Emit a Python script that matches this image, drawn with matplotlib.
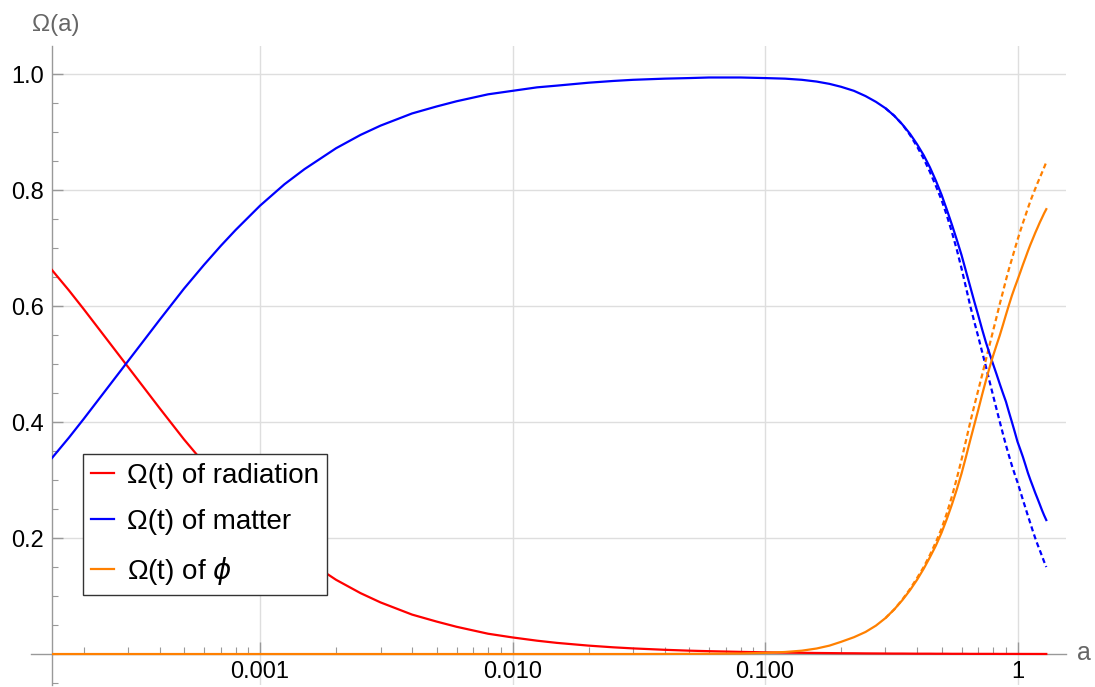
import matplotlib
matplotlib.use("Agg")
import matplotlib.pyplot as plt
from matplotlib.ticker import FixedLocator, FixedFormatter, NullFormatter
import matplotlib.transforms as mtransforms

plt.rcParams['font.family'] = ['Liberation Sans', 'DejaVu Sans']
plt.rcParams['mathtext.fontset'] = 'dejavusans'

# ---- data ----
a_vals = [1.5e-4, 1.75e-4, 2e-4, 2.5e-4, 3e-4, 3.5e-4, 4e-4, 5e-4, 6e-4, 7e-4, 8e-4,
          1e-3, 1.25e-3, 1.5e-3, 2e-3, 2.5e-3, 3e-3, 4e-3, 5e-3, 6e-3, 8e-3,
          0.01, 0.0125, 0.015, 0.02, 0.025, 0.03, 0.04, 0.05, 0.06, 0.08,
          0.1, 0.12, 0.14, 0.16, 0.18, 0.2, 0.225, 0.25, 0.275,
          0.3, 0.325, 0.35, 0.375, 0.4, 0.425, 0.45, 0.475, 0.5, 0.525, 0.55, 0.575,
          0.6, 0.625, 0.65, 0.675, 0.7, 0.725, 0.75, 0.775, 0.8, 0.825, 0.85, 0.875,
          0.9, 0.925, 0.95, 0.975, 1.0, 1.025, 1.05, 1.075, 1.1, 1.125, 1.15, 1.175,
          1.2, 1.225, 1.25, 1.275, 1.3]

omega_rad = [0.662, 0.627, 0.595, 0.540, 0.495, 0.457, 0.424, 0.370, 0.329, 0.296, 0.269,
             0.227, 0.190, 0.164, 0.128, 0.105, 0.089, 0.068, 0.056, 0.047, 0.035,
             0.0286, 0.023, 0.0192, 0.0145, 0.0116, 0.0097, 0.0073, 0.0058, 0.0049, 0.0037,
             0.0029, 0.0024, 0.0021, 0.0018, 0.0016, 0.0014, 0.0013, 0.0011, 0.0010,
             0.0009, 0.0008, 0.0008, 0.0007, 0.0006, 0.0006, 0.0006, 0.0005, 0.0005, 0.0005, 0.0004, 0.0004,
             0.0004, 0.0004, 0.0003, 0.0003, 0.0003, 0.0003, 0.0003, 0.0003, 0.00025, 0.00025, 0.0002, 0.0002,
             0.0002, 0.0002, 0.0002, 0.00019, 0.00018, 0.00017, 0.00016, 0.00015, 0.00015, 0.00014, 0.00013, 0.00013,
             0.00012, 0.00012, 0.00011, 0.00011, 0.0001]

omega_mat = [0.338, 0.373, 0.405, 0.460, 0.505, 0.543, 0.576, 0.630, 0.671, 0.704, 0.731,
             0.773, 0.810, 0.836, 0.872, 0.895, 0.911, 0.932, 0.944, 0.953, 0.965,
             0.971, 0.977, 0.980, 0.985, 0.988, 0.990, 0.992, 0.993, 0.994, 0.994,
             0.993, 0.992, 0.990, 0.987, 0.983, 0.978, 0.971, 0.962, 0.952,
             0.941, 0.928, 0.913, 0.897, 0.879, 0.860, 0.839, 0.816, 0.792, 0.766, 0.740, 0.714,
             0.688, 0.660, 0.633, 0.607, 0.583, 0.559, 0.537, 0.518, 0.500, 0.483, 0.466, 0.450,
             0.435, 0.417, 0.400, 0.383, 0.366, 0.353, 0.340, 0.326, 0.312, 0.300, 0.289, 0.278,
             0.268, 0.258, 0.248, 0.239, 0.231]

omega_phi = [0.0, 0.0, 0.0, 0.0, 0.0, 0.0, 0.0, 0.0, 0.0, 0.0, 0.0,
             0.0, 0.0, 0.0, 0.0, 0.0, 0.0, 0.0, 0.0, 0.0, 0.0,
             0.0, 0.0, 0.0, 0.0, 0.0, 0.0, 0.0001, 0.0003, 0.0005, 0.001,
             0.002, 0.0035, 0.0058, 0.0095, 0.0145, 0.021, 0.029, 0.038, 0.049,
             0.062, 0.077, 0.093, 0.110, 0.128, 0.147, 0.167, 0.187, 0.209, 0.233, 0.258, 0.284,
             0.311, 0.340, 0.369, 0.396, 0.422, 0.448, 0.472, 0.494, 0.514, 0.532, 0.549, 0.567,
             0.585, 0.602, 0.618, 0.632, 0.645, 0.658, 0.671, 0.683, 0.695, 0.706, 0.716, 0.726,
             0.735, 0.744, 0.752, 0.760, 0.767]

# reference (dashed) curves, late times
a_ref = [0.3, 0.325, 0.35, 0.375, 0.4, 0.425, 0.45, 0.475, 0.5, 0.525, 0.55, 0.575,
         0.6, 0.625, 0.65, 0.675, 0.7, 0.725, 0.75, 0.775, 0.8, 0.825, 0.85, 0.875,
         0.9, 0.925, 0.95, 0.975, 1.0, 1.025, 1.05, 1.075, 1.1, 1.125, 1.15, 1.175,
         1.2, 1.225, 1.25, 1.275, 1.3]
omega_mat_ref = [0.941, 0.928, 0.913, 0.895, 0.875, 0.854, 0.831, 0.807, 0.783, 0.756, 0.727, 0.697,
                 0.665, 0.632, 0.600, 0.572, 0.546, 0.520, 0.495, 0.470, 0.446, 0.423, 0.401, 0.380,
                 0.360, 0.342, 0.325, 0.310, 0.296, 0.281, 0.266, 0.252, 0.238, 0.225, 0.212, 0.200,
                 0.189, 0.179, 0.169, 0.159, 0.150]
omega_phi_ref = [0.062, 0.077, 0.094, 0.112, 0.131, 0.150, 0.171, 0.193, 0.216, 0.243, 0.272, 0.303,
                 0.335, 0.368, 0.400, 0.429, 0.456, 0.482, 0.508, 0.533, 0.557, 0.580, 0.603, 0.624,
                 0.645, 0.664, 0.681, 0.698, 0.714, 0.729, 0.743, 0.756, 0.769, 0.781, 0.792, 0.802,
                 0.812, 0.821, 0.830, 0.839, 0.848]

labels = ['\u03a9(t) of radiation', '\u03a9(t) of matter', '\u03a9(t) of $\\phi$']
xtick_vals = [0.001, 0.01, 0.1, 1]
xtick_labels = ['0.001', '0.010', '0.100', '1']
ytick_vals = [0.2, 0.4, 0.6, 0.8, 1.0]
ytick_labels = ['0.2', '0.4', '0.6', '0.8', '1.0']

RED, BLUE, ORANGE = '#ff0000', '#0000ff', '#ff8000'
GRAY = '#999999'

fig = plt.figure(figsize=(10.95, 6.87), dpi=100)
ax = fig.add_axes([52/1095, 2/687, 1014/1095, 639/687])
ax.set_xscale('log')
ax.set_xlim(1.5e-4, 1.556)
ax.set_ylim(-0.0534, 1.0483)

lw = 1.6
ax.plot(a_ref, omega_mat_ref, color=BLUE, lw=lw, dashes=(2.3, 1.5), zorder=3)
ax.plot(a_ref, omega_phi_ref, color=ORANGE, lw=lw, dashes=(2.3, 1.5), zorder=3)
l1, = ax.plot(a_vals, omega_rad, color=RED, lw=lw, zorder=4)
l2, = ax.plot(a_vals, omega_mat, color=BLUE, lw=lw, zorder=4)
l3, = ax.plot(a_vals, omega_phi, color=ORANGE, lw=lw, zorder=4)

# spines
for s in ['top', 'right']:
    ax.spines[s].set_visible(False)
ax.spines['bottom'].set_position(('data', 0))
ax.spines['bottom'].set_color(GRAY)
ax.spines['left'].set_color(GRAY)
ax.spines['bottom'].set_linewidth(1.0)
ax.spines['left'].set_linewidth(1.0)
ax.spines['bottom'].set_zorder(2)

# extension of x axis to the left of the y axis
trans = mtransforms.blended_transform_factory(ax.transAxes, ax.transData)
ax.plot([-0.021, 0], [0, 0], transform=trans, color=GRAY, lw=1.0, clip_on=False)

# ticks
ax.xaxis.set_major_locator(FixedLocator(xtick_vals))
ax.xaxis.set_major_formatter(FixedFormatter(xtick_labels))
minors = []
for d in [1e-4, 1e-3, 1e-2, 1e-1]:
    for k in range(2, 10):
        v = k * d
        if 1.5e-4 <= v < 1.0:
            minors.append(v)
ax.xaxis.set_minor_locator(FixedLocator(minors))
ax.xaxis.set_minor_formatter(NullFormatter())

ax.yaxis.set_major_locator(FixedLocator(ytick_vals))
ax.yaxis.set_major_formatter(FixedFormatter(ytick_labels))
ax.yaxis.set_minor_locator(FixedLocator([-0.05 + 0.05 * i for i in range(23)]))

ax.tick_params(axis='x', which='major', direction='in', length=9, width=1, color=GRAY,
               labelsize=17, pad=5)
ax.tick_params(axis='x', which='minor', direction='in', length=5, width=0.8, color=GRAY)
ax.tick_params(axis='y', which='major', direction='in', length=8, width=1, color=GRAY,
               labelsize=17, pad=6)
ax.tick_params(axis='y', which='minor', direction='in', length=4, width=0.8, color=GRAY)

ax.grid(True, which='major', color='#dedede', lw=1.0, zorder=0)
ax.set_axisbelow(True)

# axis labels
fig.text(32/1095, 1 - 25/687, '\u03a9(a)', ha='left', va='center', fontsize=17.5, color='#666666')
fig.text(1077/1095, 1 - 653/687, 'a', ha='left', va='center', fontsize=18, color='#666666')

leg = ax.legend([l1, l2, l3], labels, loc='lower left',
                bbox_to_anchor=(31/1014, 90/639), borderaxespad=0,
                fontsize=20, frameon=True, fancybox=False, framealpha=1,
                edgecolor='#333333', handlelength=0.8, handletextpad=0.47,
                borderpad=0.3, labelspacing=0.72)
leg.get_frame().set_linewidth(1.0)
leg.set_zorder(10)

fig.savefig('out.png', dpi=100)
